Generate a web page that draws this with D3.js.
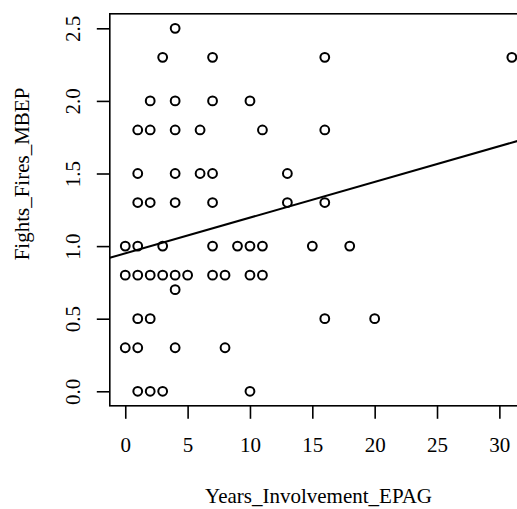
<!DOCTYPE html>
<html>
<head>
<meta charset="utf-8">
<script src="https://cdn.jsdelivr.net/npm/d3@7"></script>
<style>
  html, body { margin: 0; padding: 0; background: #fff; }
  svg { display: block; }
  svg text { font-family: "Liberation Serif", "DejaVu Serif", serif !important; }
</style>
</head>
<body>
<svg id="chart" width="517" height="509"></svg>
<script>
// ---- Data ----
const years = [
  4,
  3, 7, 16, 31,
  2, 4, 7, 10,
  1, 2, 4, 6, 11, 16,
  1, 4, 6, 7, 13,
  1, 2, 4, 7, 13, 16,
  0, 1, 3, 7, 9, 10, 11, 15, 18,
  0, 1, 2, 3, 4, 5, 7, 8, 10, 11,
  4,
  1, 2, 16, 20,
  0, 1, 4, 8,
  1, 2, 3, 10
];
const fights = [
  2.5,
  2.3, 2.3, 2.3, 2.3,
  2.0, 2.0, 2.0, 2.0,
  1.8, 1.8, 1.8, 1.8, 1.8, 1.8,
  1.5, 1.5, 1.5, 1.5, 1.5,
  1.3, 1.3, 1.3, 1.3, 1.3, 1.3,
  1.0, 1.0, 1.0, 1.0, 1.0, 1.0, 1.0, 1.0, 1.0,
  0.8, 0.8, 0.8, 0.8, 0.8, 0.8, 0.8, 0.8, 0.8, 0.8,
  0.7,
  0.5, 0.5, 0.5, 0.5,
  0.3, 0.3, 0.3, 0.3,
  0.0, 0.0, 0.0, 0.0
];
const xTicks = [0, 5, 10, 15, 20, 25, 30];
const yTicks = [0.0, 0.5, 1.0, 1.5, 2.0, 2.5];
const yTickLabels = ["0.0", "0.5", "1.0", "1.5", "2.0", "2.5"];
// fitted line (intercept, slope) as drawn in the reference
const fitIntercept = 0.950;
const fitSlope = 0.0246;
const xLabel = "Years_Involvement_EPAG";
const yLabel = "Fights_Fires_MBEP";

// ---- Layout ----
const plotLeft = 109.8, plotRight = 527.3, plotTop = 13.8, plotBottom = 405.8;
const fontSize = 21;
const serif = "Liberation Serif";

const svg = d3.select("#chart");

const xExt = d3.extent(years), yExt = d3.extent(fights);
const xPad = (xExt[1] - xExt[0]) * 0.04, yPad = (yExt[1] - yExt[0]) * 0.04;
const x = d3.scaleLinear().domain([xExt[0] - xPad, xExt[1] + xPad]).range([plotLeft, plotRight]);
const y = d3.scaleLinear().domain([yExt[0] - yPad, yExt[1] + yPad]).range([plotBottom, plotTop]);

svg.append("defs").append("clipPath").attr("id", "plotclip")
  .append("rect")
  .attr("x", plotLeft).attr("y", plotTop)
  .attr("width", plotRight - plotLeft).attr("height", plotBottom - plotTop);

// Points
svg.append("g").selectAll("circle")
  .data(years.map((d, i) => [d, fights[i]]))
  .join("circle")
  .attr("cx", d => x(d[0]))
  .attr("cy", d => y(d[1]))
  .attr("r", 4.4)
  .attr("fill", "none")
  .attr("stroke", "#000")
  .attr("stroke-width", 2);

// Regression line
const xd = x.domain();
svg.append("line")
  .attr("clip-path", "url(#plotclip)")
  .attr("x1", x(xd[0])).attr("y1", y(fitIntercept + fitSlope * xd[0]))
  .attr("x2", x(xd[1])).attr("y2", y(fitIntercept + fitSlope * xd[1]))
  .attr("stroke", "#000").attr("stroke-width", 2);

// Box
svg.append("rect")
  .attr("x", plotLeft).attr("y", plotTop)
  .attr("width", plotRight - plotLeft).attr("height", plotBottom - plotTop)
  .attr("fill", "none").attr("stroke", "#000").attr("stroke-width", 1.6);

// X axis
const gx = svg.append("g")
  .attr("transform", `translate(0,${plotBottom})`)
  .call(d3.axisBottom(x).tickValues(xTicks).tickSize(13).tickSizeOuter(0).tickFormat(d3.format("d")))
  .attr("font-family", serif).attr("font-size", fontSize);
gx.select(".domain").remove();
gx.selectAll(".tick line").attr("stroke", "#000").attr("stroke-width", 1.6);
gx.selectAll(".tick text")
  .attr("y", 46.7).attr("dy", null)
  .attr("fill", "#000");

// Y axis
const gy = svg.append("g")
  .attr("transform", `translate(${plotLeft},0)`)
  .call(d3.axisLeft(y).tickValues(yTicks).tickSize(13).tickSizeOuter(0)
    .tickFormat((d, i) => yTickLabels[i]))
  .attr("font-family", serif).attr("font-size", fontSize);
gy.select(".domain").remove();
gy.selectAll(".tick line").attr("stroke", "#000").attr("stroke-width", 1.6);
gy.selectAll(".tick text")
  .attr("x", null).attr("dy", null)
  .attr("transform", `translate(${80 - plotLeft},0) rotate(-90)`)
  .attr("text-anchor", "middle")
  .attr("fill", "#000");

// Axis titles
svg.append("text")
  .attr("x", (plotLeft + plotRight) / 2).attr("y", 503)
  .attr("text-anchor", "middle")
  .attr("font-family", serif)
  .attr("font-size", fontSize).attr("fill", "#000")
  .text(xLabel);

svg.append("text")
  .attr("transform", `translate(29,174) rotate(-90)`)
  .attr("text-anchor", "middle")
  .attr("font-family", serif)
  .attr("font-size", fontSize).attr("fill", "#000")
  .text(yLabel);
</script>
</body>
</html>
